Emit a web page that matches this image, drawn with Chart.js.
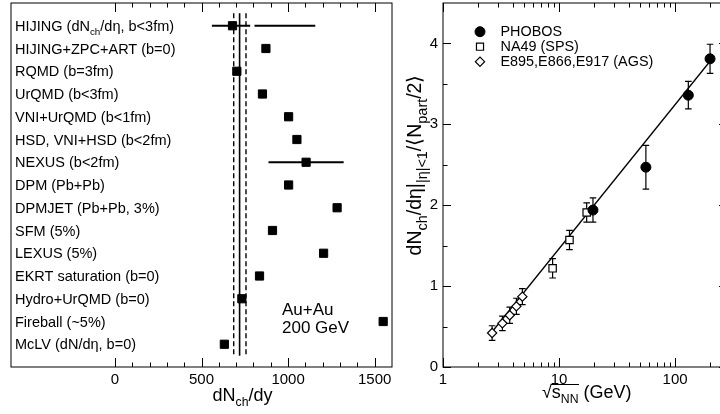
<!DOCTYPE html>
<html>
<head>
<meta charset="utf-8">
<script src="https://cdn.jsdelivr.net/npm/chart.js@4.4.0/dist/chart.umd.min.js"></script>
<style>
  html, body { margin: 0; padding: 0; background: #fff; overflow: hidden; }
  body { width: 720px; height: 414px; position: relative; }
  .panel { position: absolute; top: 0; height: 414px; }
  #left { left: 0; width: 400px; }
  #right { left: 400px; width: 330px; }
</style>
</head>
<body>
<div class="panel" id="left"><canvas id="models"></canvas></div>
<div class="panel" id="right"><canvas id="energy"></canvas></div>
<script>
// left panel: model predictions of dNch/dy at 200 GeV
const models = [
  'HIJING (dN_{ch}/dη, b<3fm)',
  'HIJING+ZPC+ART (b=0)',
  'RQMD (b=3fm)',
  'UrQMD (b<3fm)',
  'VNI+UrQMD (b<1fm)',
  'HSD, VNI+HSD (b<2fm)',
  'NEXUS (b<2fm)',
  'DPM (Pb+Pb)',
  'DPMJET (Pb+Pb, 3%)',
  'SFM (5%)',
  'LEXUS (5%)',
  'EKRT saturation (b=0)',
  'Hydro+UrQMD (b=0)',
  'Fireball (~5%)',
  'McLV (dN/dη, b=0)'
];
const predictions = [679, 872, 704, 852, 1003, 1051, 1104, 1003, 1283, 910, 1205, 835, 733, 1549, 632];
// horizontal ranges: [model index, low, high]
const predictionRanges = [[0, 560, 781], [0, 806, 1157], [6, 887, 1321]];
// measured value and its band (vertical lines), and the row span they cover
const phobosCentral = 720;
const phobosBand = [686, 757];
const phobosLineSpan = [0.45, 15.5];
const leftMajorTicks = [0, 500, 1000, 1500];

// right panel: dNch/deta per participant pair vs sqrt(sNN)
const phobosEnergy = [19.6, 56, 130, 200];
const phobosValue = [1.94, 2.47, 3.36, 3.81];
const phobosErr = [0.15, 0.27, 0.17, 0.18];
const na49Energy = [8.8, 12.3, 17.3];
const na49Value = [1.22, 1.57, 1.91];
const na49Err = [0.12, 0.12, 0.12];
const agsEnergy = [2.65, 3.25, 3.76, 4.29, 4.83];
const agsValue = [0.42, 0.54, 0.64, 0.75, 0.87];
const agsErr = [0.09, 0.09, 0.1, 0.1, 0.1];
const fitEnergy = [2.6, 200];
const fitValue = [0.42, 3.78];
const rightXTicks = [1, 10, 100];
const rightYTicks = [0, 1, 2, 3, 4];

const FONT = '"Liberation Sans", Arial, Helvetica, sans-serif';
Chart.defaults.font.family = FONT;
Chart.defaults.color = '#000';

// split "a_{b}c" into normal / subscript runs
function richParts(str) {
  const parts = [];
  const re = /_\{([^}]*)\}/g;
  let last = 0, m;
  while ((m = re.exec(str))) {
    if (m.index > last) parts.push({ text: str.slice(last, m.index), sub: false });
    parts.push({ text: m[1], sub: true });
    last = re.lastIndex;
  }
  if (last < str.length) parts.push({ text: str.slice(last), sub: false });
  return parts;
}

function drawRich(ctx, str, x, y, size, align, subScale) {
  const parts = richParts(str);
  const subSize = size * (subScale || 0.68);
  const font = s => s + 'px ' + FONT;
  let width = 0;
  parts.forEach(p => {
    ctx.font = font(p.sub ? subSize : size);
    p.w = ctx.measureText(p.text).width;
    width += p.w;
  });
  let cx = align === 'center' ? x - width / 2 : align === 'right' ? x - width : x;
  ctx.textAlign = 'left';
  ctx.textBaseline = 'alphabetic';
  parts.forEach(p => {
    ctx.font = font(p.sub ? subSize : size);
    ctx.fillText(p.text, cx, p.sub ? y + size * 0.3 : y);
    p.x0 = cx;
    cx += p.w;
    p.x1 = cx;
  });
  return parts;
}

// zero the label overhang padding so the plot area stays where the layout puts it
function noOverhang(s) {
  s.paddingTop = 0; s.paddingBottom = 0; s.paddingLeft = 0; s.paddingRight = 0;
}

// plot frame with inward ticks on the chosen sides
const framePlugin = {
  id: 'frame',
  afterDraw(chart, args, opts) {
    const { ctx, chartArea: a, scales } = chart;
    ctx.save();
    ctx.strokeStyle = '#000';
    ctx.lineWidth = 1;
    ctx.strokeRect(a.left, a.top, a.right - a.left, a.bottom - a.top);
    ctx.beginPath();
    const xMarks = (vals, len) => vals.forEach(v => {
      const px = Math.round(scales.x.getPixelForValue(v)) + 0.5;
      ctx.moveTo(px, a.bottom); ctx.lineTo(px, a.bottom - len);
      ctx.moveTo(px, a.top); ctx.lineTo(px, a.top + len);
    });
    const yMarks = (vals, len) => vals.forEach(v => {
      const py = Math.round(scales.y.getPixelForValue(v)) + 0.5;
      ctx.moveTo(a.left, py); ctx.lineTo(a.left + len, py);
      ctx.moveTo(a.right, py); ctx.lineTo(a.right - len, py);
    });
    xMarks(opts.xMajor || [], 9);
    xMarks(opts.xMinor || [], 4.5);
    yMarks(opts.yMajor || [], 8);
    yMarks(opts.yMinor || [], 4.5);
    ctx.stroke();
    ctx.restore();
  }
};

// free text: axis titles, row labels, notes
const textPlugin = {
  id: 'texts',
  afterDraw(chart, args, opts) {
    const { ctx, chartArea: a, scales } = chart;
    ctx.save();
    ctx.fillStyle = '#000';
    (opts.rows || []).forEach((label, i) => {
      const py = scales.y.getPixelForValue(i + 1);
      drawRich(ctx, label, a.left + 4, py + 5.2, 14.5, 'left');
    });
    (opts.notes || []).forEach(n => {
      drawRich(ctx, n.text, scales.x.getPixelForValue(n.x), scales.y.getPixelForValue(n.y) + 6, 17, 'left');
    });
    if (opts.xTitle) {
      const t = opts.xTitle;
      const parts = drawRich(ctx, t.text, t.x, t.y, t.size, 'center');
      if (t.radical) {
        // bar of the square root, from the top of the sign over s_NN
        ctx.font = t.size + 'px ' + FONT;
        const sign = ctx.measureText('√');
        const start = parts[0].x0 + sign.width - 0.8;
        const end = parts[1].x1 + 0.5;
        const top = Math.round(t.y - Math.min(sign.actualBoundingBoxAscent || 14, 14)) + 0.5;
        ctx.beginPath();
        ctx.lineWidth = 1;
        ctx.strokeStyle = '#000';
        ctx.moveTo(start, top);
        ctx.lineTo(end, top);
        ctx.stroke();
      }
    }
    if (opts.yTitle) {
      const t = opts.yTitle;
      ctx.translate(t.x, t.y);
      ctx.rotate(-Math.PI / 2);
      drawRich(ctx, t.text, 0, 0, t.size, 'center', t.subScale);
    }
    ctx.restore();
  }
};

// vertical error bars with caps, drawn under the markers
const errorBarPlugin = {
  id: 'errorBars',
  beforeDatasetsDraw(chart, args, opts) {
    const { ctx, scales } = chart;
    ctx.save();
    ctx.strokeStyle = '#000';
    ctx.lineWidth = 1.2;
    ctx.beginPath();
    (opts.sets || []).forEach(set => {
      chart.data.datasets[set.index].data.forEach((p, i) => {
        const px = scales.x.getPixelForValue(p.x);
        const hi = scales.y.getPixelForValue(p.y + set.errors[i]);
        const lo = scales.y.getPixelForValue(p.y - set.errors[i]);
        ctx.moveTo(px, hi); ctx.lineTo(px, lo);
        ctx.moveTo(px - 3.3, hi); ctx.lineTo(px + 3.3, hi);
        ctx.moveTo(px - 3.3, lo); ctx.lineTo(px + 3.3, lo);
      });
    });
    ctx.stroke();
    ctx.restore();
  }
};

// legend placed inside the plot area
const insideLegendPlugin = {
  id: 'insideLegend',
  afterDraw(chart, args, opts) {
    const { ctx } = chart;
    ctx.save();
    opts.items.forEach((idx, k) => {
      const ds = chart.data.datasets[idx];
      const y = opts.y + k * opts.step;
      ctx.fillStyle = ds.backgroundColor;
      ctx.strokeStyle = ds.borderColor;
      ctx.lineWidth = ds.borderWidth;
      Chart.helpers.drawPoint(ctx, {
        pointStyle: ds.pointStyle,
        radius: opts.radius[k],
        borderWidth: ds.borderWidth,
        rotation: 0
      }, opts.x, y);
      ctx.fillStyle = '#000';
      ctx.font = '14.4px ' + FONT;
      ctx.textAlign = 'left';
      ctx.textBaseline = 'middle';
      ctx.fillText(ds.label, opts.x + 20.5, y + 0.5);
    });
    ctx.restore();
  }
};

const leftMinor = [];
for (let v = 100; v < 1500; v += 100) if (v % 500 !== 0) leftMinor.push(v);

new Chart(document.getElementById('models'), {
  type: 'scatter',
  data: {
    datasets: [
      {
        data: predictions.map((v, i) => ({ x: v, y: i + 1 })),
        pointStyle: 'rect',
        pointRadius: 5.8,
        backgroundColor: '#000',
        borderColor: '#000',
        borderWidth: 1
      },
      ...predictionRanges.map(r => ({
        data: [{ x: r[1], y: r[0] + 1 }, { x: r[2], y: r[0] + 1 }],
        showLine: true,
        pointRadius: 0,
        borderColor: '#000',
        borderWidth: 2
      })),
      {
        data: phobosLineSpan.map(y => ({ x: phobosCentral, y })),
        showLine: true,
        pointRadius: 0,
        borderColor: '#000',
        borderWidth: 1.6
      },
      ...phobosBand.map(v => ({
        data: phobosLineSpan.map(y => ({ x: v, y })),
        showLine: true,
        pointRadius: 0,
        borderColor: '#000',
        borderWidth: 1.4,
        borderDash: [5, 3]
      }))
    ]
  },
  options: {
    responsive: true,
    maintainAspectRatio: false,
    animation: false,
    events: [],
    layout: { autoPadding: false, padding: { left: 11, top: 3, right: 8, bottom: 0 } },
    scales: {
      x: {
        type: 'linear',
        min: -600,
        max: 1600,
        grid: { display: false, drawTicks: false },
        border: { display: false },
        ticks: { font: { size: 15 }, padding: 4, maxRotation: 0, callback: v => String(v) },
        afterBuildTicks: s => { s.ticks = leftMajorTicks.map(v => ({ value: v })); },
        afterFit: s => { s.height = 47; noOverhang(s); }
      },
      y: { type: 'linear', min: 0, max: 16, reverse: true, display: false }
    },
    plugins: {
      legend: { display: false },
      tooltip: { enabled: false },
      frame: { xMajor: leftMajorTicks, xMinor: leftMinor },
      texts: {
        rows: models,
        notes: [{ text: 'Au+Au', x: 965, y: 13.45 }, { text: '200 GeV', x: 965, y: 14.22 }],
        xTitle: { text: 'dN_{ch}/dy', x: 242.5, y: 401, size: 18 }
      }
    }
  },
  plugins: [framePlugin, textPlugin]
});

const logMinor = [];
[1, 10, 100].forEach(d => { for (let m = 2; m <= 9; m++) if (d * m < 280) logMinor.push(d * m); });

new Chart(document.getElementById('energy'), {
  type: 'scatter',
  data: {
    datasets: [
      {
        label: 'PHOBOS',
        data: phobosEnergy.map((x, i) => ({ x, y: phobosValue[i] })),
        pointStyle: 'circle',
        pointRadius: 5,
        backgroundColor: '#000',
        borderColor: '#000',
        borderWidth: 1
      },
      {
        label: 'NA49 (SPS)',
        data: na49Energy.map((x, i) => ({ x, y: na49Value[i] })),
        pointStyle: 'rect',
        pointRadius: 5.2,
        backgroundColor: '#fff',
        borderColor: '#000',
        borderWidth: 1.2
      },
      {
        label: 'E895,E866,E917 (AGS)',
        data: agsEnergy.map((x, i) => ({ x, y: agsValue[i] })),
        pointStyle: 'rectRot',
        pointRadius: 4.6,
        backgroundColor: '#fff',
        borderColor: '#000',
        borderWidth: 1.2
      },
      {
        label: 'fit',
        data: fitEnergy.map((x, i) => ({ x, y: fitValue[i] })),
        showLine: true,
        pointRadius: 0,
        borderColor: '#000',
        borderWidth: 1.3
      }
    ]
  },
  options: {
    responsive: true,
    maintainAspectRatio: false,
    animation: false,
    events: [],
    layout: { autoPadding: false, padding: { left: 0, top: 3, right: 3, bottom: 0 } },
    scales: {
      x: {
        type: 'logarithmic',
        min: 1,
        max: 280,
        grid: { display: false, drawTicks: false },
        border: { display: false },
        ticks: { font: { size: 15 }, padding: 4, maxRotation: 0, callback: v => String(v) },
        afterBuildTicks: s => { s.ticks = rightXTicks.map(v => ({ value: v })); },
        afterFit: s => { s.height = 47; noOverhang(s); }
      },
      y: {
        type: 'linear',
        min: 0,
        max: 4.5,
        grid: { display: false, drawTicks: false },
        border: { display: false },
        ticks: { font: { size: 15 }, padding: 5, callback: v => String(v) },
        afterBuildTicks: s => { s.ticks = rightYTicks.map(v => ({ value: v })); },
        afterFit: s => { s.width = 43; noOverhang(s); }
      }
    },
    plugins: {
      legend: { display: false },
      tooltip: { enabled: false },
      frame: { xMajor: rightXTicks, xMinor: logMinor, yMajor: rightYTicks, yMinor: [0.5, 1.5, 2.5, 3.5] },
      errorBars: { sets: [{ index: 0, errors: phobosErr }, { index: 1, errors: na49Err }, { index: 2, errors: agsErr }] },
      insideLegend: { items: [0, 1, 2], x: 80, y: 31.7, step: 15, radius: [5, 5, 4.6] },
      texts: {
        xTitle: { text: '√s_{NN} (GeV)', x: 186.7, y: 398, size: 18, radical: true },
        yTitle: { text: 'dN_{ch}/dη|_{|η|<1}/⟨N_{part}/2⟩', x: 21, y: 165, size: 19.5, subScale: 0.74 }
      }
    }
  },
  plugins: [framePlugin, textPlugin, errorBarPlugin, insideLegendPlugin]
});
</script>
</body>
</html>
